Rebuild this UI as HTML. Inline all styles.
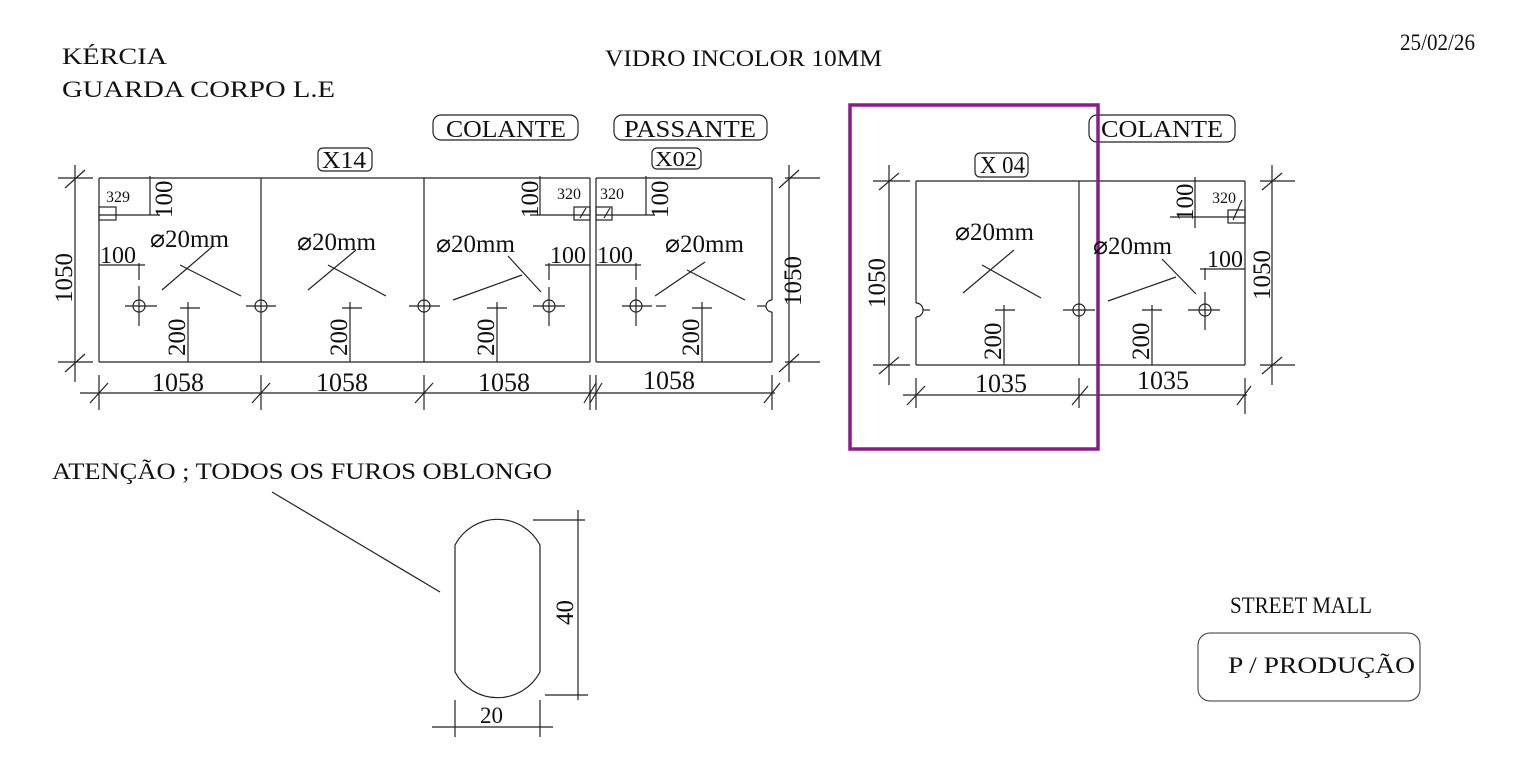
<!DOCTYPE html>
<html><head><meta charset="utf-8"><style>
html,body{margin:0;padding:0;background:#fff;}
svg{display:block;}
text{font-family:"Liberation Serif",serif;fill:#111;}
</style></head><body>
<svg width="1535" height="767" viewBox="0 0 1535 767" xmlns="http://www.w3.org/2000/svg">
<g font-size="23">
<text x="62" y="64" textLength="105" lengthAdjust="spacingAndGlyphs">KÉRCIA</text>
<text x="62" y="97" textLength="273" lengthAdjust="spacingAndGlyphs">GUARDA CORPO  L.E</text>
<text x="605" y="66" textLength="277" lengthAdjust="spacingAndGlyphs">VIDRO INCOLOR 10MM</text>
<text x="1400" y="50" textLength="75" lengthAdjust="spacingAndGlyphs">25/02/26</text>
<text x="52" y="479" textLength="500" lengthAdjust="spacingAndGlyphs">ATENÇÃO ; TODOS OS FUROS    OBLONGO</text>
<text x="1230" y="613" textLength="142" lengthAdjust="spacingAndGlyphs">STREET MALL</text>
<text x="1228" y="673" textLength="187" lengthAdjust="spacingAndGlyphs">P / PRODUÇÃO</text>
</g>
<rect x="1198" y="633" width="222" height="68" rx="12" fill="none" stroke="#333" stroke-width="1"/>

<g fill="none" stroke="#222" stroke-width="1.2">
<rect x="433" y="115" width="145" height="25" rx="8"/>
<rect x="614" y="115" width="153" height="25" rx="8"/>
<rect x="318" y="148" width="54" height="23" rx="5"/>
<rect x="652" y="148" width="49" height="21" rx="5"/>
<rect x="975" y="153" width="53" height="24" rx="5"/>
<rect x="1089" y="115" width="146" height="27" rx="8"/>

<line x1="99" y1="178" x2="590" y2="178"/>
<line x1="99" y1="362" x2="590" y2="362"/>
<line x1="99" y1="178" x2="99" y2="362"/>
<line x1="261" y1="178" x2="261" y2="362"/>
<line x1="424" y1="178" x2="424" y2="362"/>
<line x1="590" y1="178" x2="590" y2="362"/>
<line x1="596" y1="178" x2="772" y2="178"/>
<line x1="596" y1="362" x2="772" y2="362"/>
<line x1="596" y1="178" x2="596" y2="362"/>
<line x1="772" y1="178" x2="772" y2="300"/>
<line x1="772" y1="312" x2="772" y2="362"/>
<line x1="75" y1="165" x2="75" y2="382"/>
<line x1="58" y1="178" x2="93" y2="178"/>
<line x1="58" y1="362" x2="93" y2="362"/>
<line x1="65" y1="188" x2="85" y2="170"/>
<line x1="65" y1="372" x2="85" y2="354"/>
<line x1="789" y1="165" x2="789" y2="382"/>
<line x1="785" y1="178" x2="820" y2="178"/>
<line x1="785" y1="362" x2="820" y2="362"/>
<line x1="779" y1="188" x2="799" y2="170"/>
<line x1="779" y1="372" x2="799" y2="354"/>
<line x1="80" y1="393" x2="775" y2="393"/>
<line x1="99" y1="375" x2="99" y2="410"/><line x1="90" y1="403" x2="108" y2="383"/>
<line x1="261" y1="375" x2="261" y2="410"/><line x1="252" y1="403" x2="270" y2="383"/>
<line x1="424" y1="375" x2="424" y2="410"/><line x1="415" y1="403" x2="433" y2="383"/>
<line x1="590" y1="375" x2="590" y2="410"/><line x1="584" y1="403" x2="596" y2="383"/>
<line x1="596" y1="375" x2="596" y2="410"/><line x1="590" y1="403" x2="602" y2="383"/>
<line x1="772" y1="375" x2="772" y2="410"/><line x1="764" y1="403" x2="780" y2="383"/>

<circle cx="139" cy="306" r="6"/><line x1="125" y1="306" x2="157" y2="306"/><line x1="139" y1="286" x2="139" y2="326"/>
<line x1="139" y1="263" x2="139" y2="280"/><line x1="99" y1="265" x2="145" y2="265"/>
<circle cx="261" cy="306" r="6"/><line x1="246" y1="306" x2="276" y2="306"/>
<circle cx="424" cy="306" r="6"/><line x1="409" y1="306" x2="440" y2="306"/>
<circle cx="549" cy="306" r="6"/><line x1="533" y1="306" x2="565" y2="306"/><line x1="549" y1="287" x2="549" y2="326"/>
<line x1="549" y1="263" x2="549" y2="280"/><line x1="545" y1="265" x2="590" y2="265"/>
<circle cx="636" cy="306" r="6"/><line x1="622" y1="306" x2="652" y2="306"/><line x1="636" y1="287" x2="636" y2="326"/>
<line x1="636" y1="263" x2="636" y2="280"/><line x1="596" y1="265" x2="641" y2="265"/>
<line x1="656" y1="306" x2="666" y2="306"/>
<path d="M772 300 A6 6 0 0 0 772 312"/><line x1="757" y1="306" x2="766" y2="306"/>
<line x1="188" y1="302" x2="188" y2="362"/><line x1="180" y1="308" x2="200" y2="308"/>
<line x1="350" y1="302" x2="350" y2="362"/><line x1="342" y1="308" x2="362" y2="308"/>
<line x1="497" y1="302" x2="497" y2="362"/><line x1="487" y1="308" x2="507" y2="308"/>
<line x1="702" y1="302" x2="702" y2="362"/><line x1="692" y1="308" x2="712" y2="308"/>
<line x1="150" y1="176" x2="150" y2="215"/><line x1="99" y1="215" x2="160" y2="215"/>
<rect x="99" y="207" width="17" height="13"/>
<line x1="540" y1="176" x2="540" y2="215"/><line x1="530" y1="215" x2="590" y2="215"/>
<rect x="574" y="207" width="16" height="13"/><line x1="580" y1="218" x2="586" y2="208"/>
<line x1="646" y1="176" x2="646" y2="215"/><line x1="596" y1="215" x2="655" y2="215"/>
<rect x="596" y="207" width="16" height="13"/><line x1="604" y1="218" x2="610" y2="208"/>
<line x1="162" y1="290" x2="212" y2="247"/><line x1="180" y1="265" x2="241" y2="296"/>
<line x1="308" y1="290" x2="356" y2="250"/><line x1="328" y1="265" x2="386" y2="296"/>
<line x1="453" y1="300" x2="522" y2="275"/><line x1="508" y1="256" x2="541" y2="292"/>
<line x1="655" y1="296" x2="705" y2="262"/><line x1="687" y1="270" x2="745" y2="300"/>

<line x1="916" y1="181" x2="1245" y2="181"/>
<line x1="916" y1="365" x2="1245" y2="365"/>
<line x1="916" y1="181" x2="916" y2="303"/>
<line x1="916" y1="317" x2="916" y2="365"/>
<line x1="1079" y1="181" x2="1079" y2="365"/>
<line x1="1245" y1="181" x2="1245" y2="365"/>
<line x1="889" y1="165" x2="889" y2="385"/>
<line x1="873" y1="181" x2="910" y2="181"/><line x1="873" y1="365" x2="910" y2="365"/>
<line x1="879" y1="190" x2="899" y2="173"/><line x1="879" y1="374" x2="899" y2="357"/>
<line x1="1272" y1="165" x2="1272" y2="385"/>
<line x1="1260" y1="181" x2="1295" y2="181"/><line x1="1260" y1="365" x2="1295" y2="365"/>
<line x1="1262" y1="190" x2="1282" y2="173"/><line x1="1262" y1="374" x2="1282" y2="357"/>
<line x1="903" y1="395" x2="1247" y2="395"/>
<line x1="916" y1="378" x2="916" y2="408"/><line x1="907" y1="405" x2="925" y2="386"/>
<line x1="1079" y1="378" x2="1079" y2="408"/><line x1="1072" y1="405" x2="1088" y2="386"/>
<line x1="1245" y1="378" x2="1245" y2="414"/><line x1="1237" y1="405" x2="1251" y2="386"/>
<path d="M916 303 A7 7 0 0 1 916 317"/><line x1="923" y1="310" x2="930" y2="310"/>
<circle cx="1079" cy="310" r="6"/><line x1="1063" y1="310" x2="1095" y2="310"/>
<circle cx="1205" cy="310" r="6"/><line x1="1188" y1="310" x2="1220" y2="310"/><line x1="1205" y1="292" x2="1205" y2="330"/>
<line x1="1205" y1="268" x2="1205" y2="280"/><line x1="1200" y1="269" x2="1245" y2="269"/>
<line x1="1004" y1="305" x2="1004" y2="365"/><line x1="995" y1="310" x2="1015" y2="310"/>
<line x1="1152" y1="305" x2="1152" y2="365"/><line x1="1142" y1="310" x2="1162" y2="310"/>
<line x1="1195" y1="177" x2="1195" y2="228"/><line x1="1170" y1="217" x2="1245" y2="217"/>
<rect x="1228" y="210" width="17" height="13"/><line x1="1233" y1="220" x2="1242" y2="200"/>
<line x1="963" y1="293" x2="1014" y2="250"/><line x1="982" y1="265" x2="1041" y2="298"/>
<line x1="1108" y1="301" x2="1176" y2="277"/><line x1="1162" y1="259" x2="1196" y2="294"/>

<path d="M455 545 A48 48 0 0 1 540 545 L540 672 A48 48 0 0 1 455 672 Z"/>
<line x1="578" y1="510" x2="578" y2="700"/>
<line x1="533" y1="520" x2="585" y2="520"/>
<line x1="545" y1="695" x2="588" y2="695"/>
<line x1="432" y1="727" x2="553" y2="727"/>
<line x1="455" y1="700" x2="455" y2="737"/>
<line x1="540" y1="700" x2="540" y2="737"/>
<line x1="272" y1="492" x2="440" y2="592"/>
</g>

<rect x="850" y="105" width="248" height="344" fill="none" stroke="#8b1a8f" stroke-width="3.5"/>

<g font-size="24">
<text x="446" y="137" textLength="120" lengthAdjust="spacingAndGlyphs">COLANTE</text>
<text x="624" y="137" textLength="132" lengthAdjust="spacingAndGlyphs">PASSANTE</text>
<text x="1101" y="137" textLength="122" lengthAdjust="spacingAndGlyphs">COLANTE</text>
<text x="322" y="168" textLength="44" lengthAdjust="spacingAndGlyphs">X14</text>
<text x="655" y="166" font-size="21" textLength="42" lengthAdjust="spacingAndGlyphs">X02</text>
<text x="980" y="173" textLength="45" lengthAdjust="spacingAndGlyphs">X 04</text>
<text x="152" y="391" font-size="26">1058</text>
<text x="316" y="391" font-size="26">1058</text>
<text x="478" y="391" font-size="26">1058</text>
<text x="643" y="389" font-size="26">1058</text>
<text x="975" y="392" font-size="26">1035</text>
<text x="1137" y="389" font-size="26">1035</text>
<text x="480" y="723" font-size="23">20</text>
<text x="150" y="247" font-size="25">⌀20mm</text>
<text x="297" y="250" font-size="25">⌀20mm</text>
<text x="436" y="252" font-size="25">⌀20mm</text>
<text x="665" y="252" font-size="25">⌀20mm</text>
<text x="955" y="240" font-size="25">⌀20mm</text>
<text x="1093" y="254" font-size="25">⌀20mm</text>
<text x="100" y="263">100</text>
<text x="550" y="263">100</text>
<text x="597" y="263">100</text>
<text x="1207" y="267">100</text>
<text x="106" y="202" font-size="16">329</text>
<text x="557" y="199" font-size="16">320</text>
<text x="600" y="199" font-size="16">320</text>
<text x="1212" y="203" font-size="16">320</text>
</g>
<g font-size="25">
<text transform="translate(72,303) rotate(-90)">1050</text>
<text transform="translate(801,306) rotate(-90)">1050</text>
<text transform="translate(885,308) rotate(-90)">1050</text>
<text transform="translate(1270,300) rotate(-90)">1050</text>
<text transform="translate(185,356) rotate(-90)">200</text>
<text transform="translate(347,356) rotate(-90)">200</text>
<text transform="translate(494,356) rotate(-90)">200</text>
<text transform="translate(699,356) rotate(-90)">200</text>
<text transform="translate(1001,360) rotate(-90)">200</text>
<text transform="translate(1149,360) rotate(-90)">200</text>
<text transform="translate(172,218) rotate(-90)">100</text>
<text transform="translate(538,218) rotate(-90)">100</text>
<text transform="translate(668,218) rotate(-90)">100</text>
<text transform="translate(1193,221) rotate(-90)">100</text>
<text transform="translate(573,625) rotate(-90)">40</text>
</g>
</svg>
</body></html>
